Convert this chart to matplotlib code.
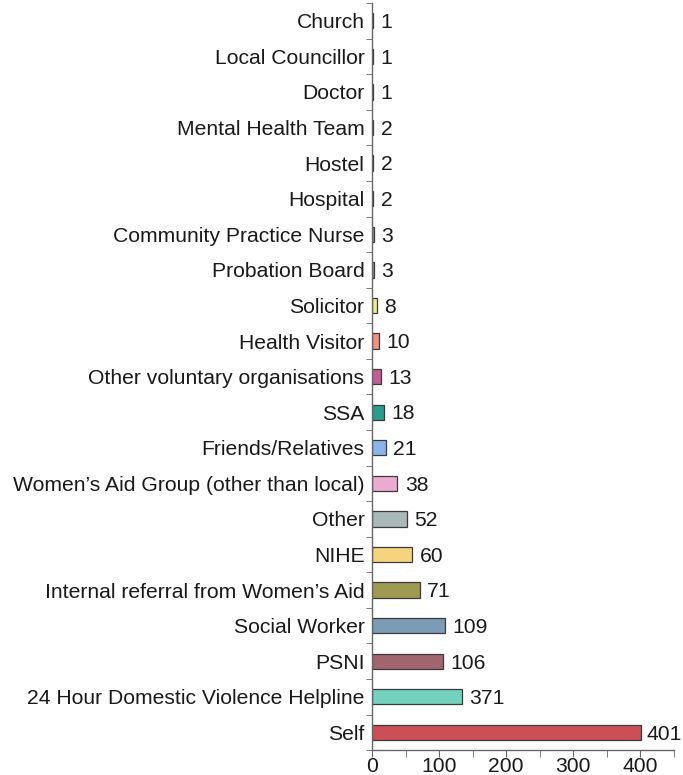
import matplotlib
matplotlib.use("Agg")
import matplotlib.pyplot as plt
import numpy as np
from matplotlib.ticker import MultipleLocator

plt.rcParams['font.family'] = ['Liberation Sans', 'DejaVu Sans']

# bottom to top, as drawn
categories = ["Self", "24 Hour Domestic Violence Helpline", "PSNI", "Social Worker",
              "Internal referral from Women\u2019s Aid", "NIHE", "Other",
              "Women\u2019s Aid Group (other than local)", "Friends/Relatives", "SSA",
              "Other voluntary organisations", "Health Visitor", "Solicitor",
              "Probation Board", "Community Practice Nurse", "Hospital", "Hostel",
              "Mental Health Team", "Doctor", "Local Councillor", "Church"]
counts = [401, 371, 106, 109, 71, 60, 52, 38, 21, 18, 13, 10, 8, 3, 3, 2, 2, 2, 1, 1, 1]
# bar lengths as drawn in the source (the helpline bar is shorter than its label)
bar_lengths = [401, 134, 106, 109, 71, 60, 52, 38, 21, 18, 13, 10, 7, 3, 3, 2, 2, 2, 1, 1, 1]
colors = ["#CC4F58", "#72D2BE", "#A1656F", "#7B9BB6", "#9E9A52", "#F6D47F", "#A9B8B8",
          "#EBABD0", "#8BB5E8", "#2A9C8D", "#C35E95", "#EF9282", "#F2E88E",
          "#9AA0A0", "#9AA0A0", "#9AA0A0", "#9AA0A0", "#9AA0A0", "#9AA0A0", "#9AA0A0", "#9AA0A0"]

FS = 15.2

fig = plt.figure(figsize=(6.83, 7.75), dpi=100)
ax = fig.add_axes([0.5447, 0.0320, 0.4414, 0.9641])

y = np.arange(len(categories))
ax.barh(y, bar_lengths, height=0.43, color=colors, edgecolor="#3a3a3a", linewidth=0.9)

for yi, length, c in zip(y, bar_lengths, counts):
    offset = 8 if length > 300 else 11
    ax.text(length + offset, yi - 0.05, str(c), va="center", ha="left", fontsize=FS, color="#1a1a1a")

ax.set_xlim(0, 450)
ax.set_ylim(-0.5, len(categories) - 0.5)

ax.set_yticks(y)
ax.set_yticklabels(categories, fontsize=FS, color="#1a1a1a")
ax.tick_params(axis="y", which="major", length=0, pad=5.5)
ax.set_yticks(np.arange(-0.5, len(categories)), minor=True)
ax.tick_params(axis="y", which="minor", length=4, color="#666666")

ax.xaxis.set_major_locator(MultipleLocator(100))
ax.xaxis.set_minor_locator(MultipleLocator(50))
ax.tick_params(axis="x", which="both", length=5, color="#666666", labelsize=FS,
               labelcolor="#1a1a1a", pad=0)

for side in ["top", "right"]:
    ax.spines[side].set_visible(False)
for side in ["left", "bottom"]:
    ax.spines[side].set_color("#666666")
    ax.spines[side].set_linewidth(1.0)

fig.savefig("out.png", dpi=100)
